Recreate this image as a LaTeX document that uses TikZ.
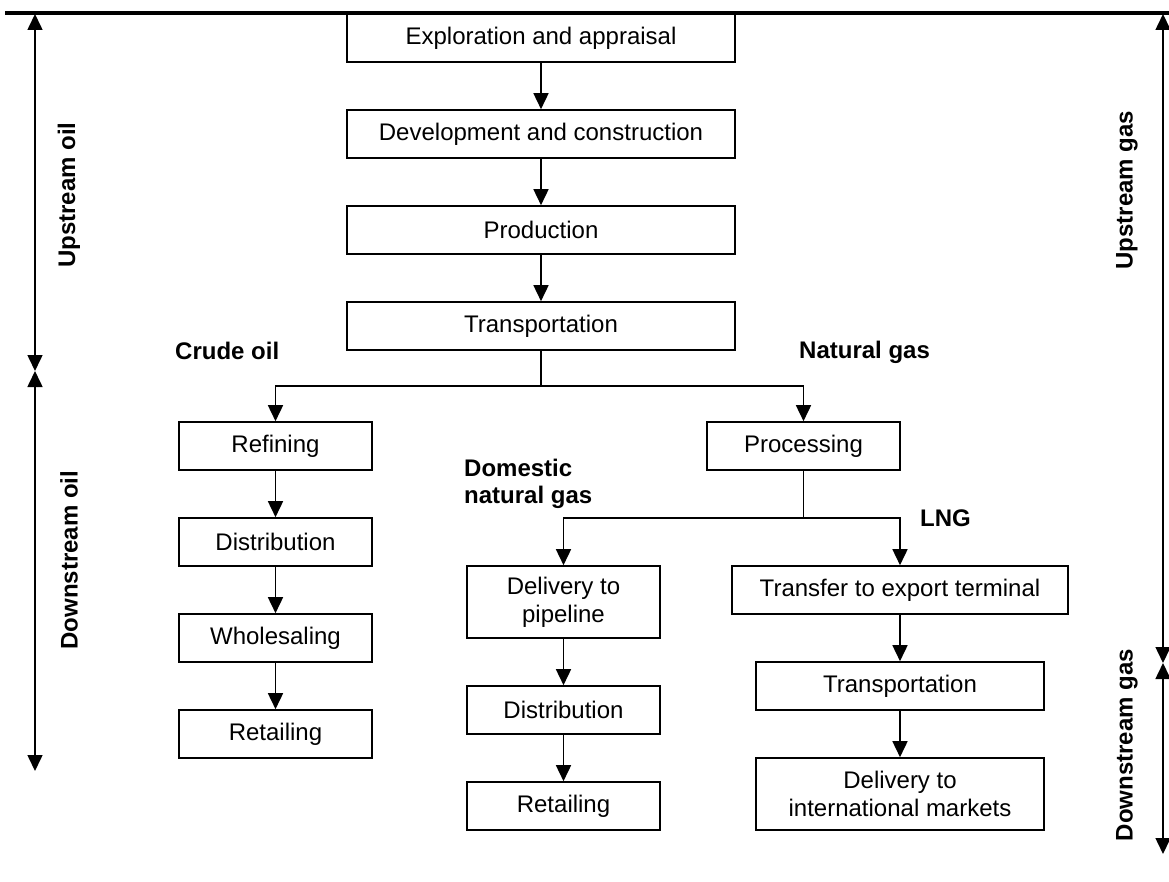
\documentclass[tikz,border=0pt]{standalone}
\usepackage{fontspec}
\setmainfont{Liberation Sans}
\usetikzlibrary{arrows.meta,positioning}
\tikzset{>={Triangle[length=16pt,width=15pt]}}

\begin{document}
\begin{tikzpicture}[x=1pt,y=-1pt,
  stage/.style={draw,line width=1.6pt,minimum width=193pt,minimum height=48pt,inner sep=0pt,align=center,font=\fontsize{24}{28}\selectfont},
  wide/.style={stage,minimum width=388pt},
  tall/.style={stage,minimum height=72pt},
  tag/.style={font=\fontsize{24}{27}\selectfont\bfseries,anchor=west,align=left,inner sep=0pt},
  side/.style={font=\fontsize{24}{28}\selectfont\bfseries,rotate=90,inner sep=0pt},
  flow/.style={line width=1.6pt},
  span/.style={line width=1.6pt,<->}]
\useasboundingbox (0,0) rectangle (1169,882);
\draw[line width=4pt] (5,13) -- (1169,13);
%%%% upstream
\node[wide] (expl) at (541,38) {Exploration and appraisal};
\node[wide] (devel) at (541,134) {Development and construction};
\node[wide] (prod) at (541,230) {Production};
\node[wide] (trans) at (541,326) {Transportation};
\draw[flow,->] (expl) -- (devel);
\draw[flow,->] (devel) -- (prod);
\draw[flow,->] (prod) -- (trans);
%%%% oil
\node[stage] (refin) at (275.5,446) {Refining};
\node[stage] (distO) at (275.5,542) {Distribution};
\node[stage] (whole) at (275.5,638) {Wholesaling};
\node[stage] (retO) at (275.5,734) {Retailing};
\draw[flow,->] (refin) -- (distO);
\draw[flow,->] (distO) -- (whole);
\draw[flow,->] (whole) -- (retO);
\node[tag] (crude) at (175,351) {Crude oil};
%%%% gas
\node[stage] (proc) at (803.5,446) {Processing};
\node[tag] (natgas) at (799,352) {Natural gas};
\coordinate (split1) at (541,386);
\draw[flow] (trans) -- (split1);
\draw[flow,->] (split1) -| (refin.north);
\draw[flow,->] (split1) -| (proc.north);
%%%% domestic gas
\node[tall] (pipe) at (563.5,602) {Delivery to\\pipeline};
\node[stage] (distG) at (563.5,710) {Distribution};
\node[stage] (retG) at (563.5,806) {Retailing};
\draw[flow,->] (pipe) -- (distG);
\draw[flow,->] (distG) -- (retG);
\node[tag] (domestic) at (464,484) {Domestic\\natural gas};
%%%% LNG
\node[stage,minimum width=336pt] (transfer) at (900,590) {Transfer to export terminal};
\node[stage,minimum width=288pt] (transL) at (900,686) {Transportation};
\node[tall,minimum width=288pt] (intl) at (900,794) {Delivery to\\international markets};
\draw[flow,->] (transfer) -- (transL);
\draw[flow,->] (transL) -- (intl);
\node[tag] (lng) at (920,518) {LNG};
\coordinate (split2) at (803.5,518);
\draw[flow] (proc) -- (split2);
\draw[flow,->] (split2) -| (pipe.north);
\draw[flow,->] (split2) -| (transfer.north);
%%%% sides
\coordinate (oilTop) at (35,14);
\coordinate (oilMid) at (35,371);
\coordinate (oilEnd) at (35,771);
\coordinate (gasTop) at (1163,14);
\coordinate (gasMid) at (1163,663);
\coordinate (gasEnd) at (1163,854);
\draw[span] (oilTop) -- (oilMid);
\draw[span] (oilMid) -- (oilEnd);
\draw[span] (gasTop) -- (gasMid);
\draw[span] (gasMid) -- (gasEnd);
\node[side] (upoil) at (69,195) {Upstream oil};
\node[side] (downoil) at (69,560) {Downstream oil};
\node[side] (upgas) at (1127,190) {Upstream gas};
\node[side] (downgas) at (1127,745) {Downstream gas};
\end{tikzpicture}
\end{document}
